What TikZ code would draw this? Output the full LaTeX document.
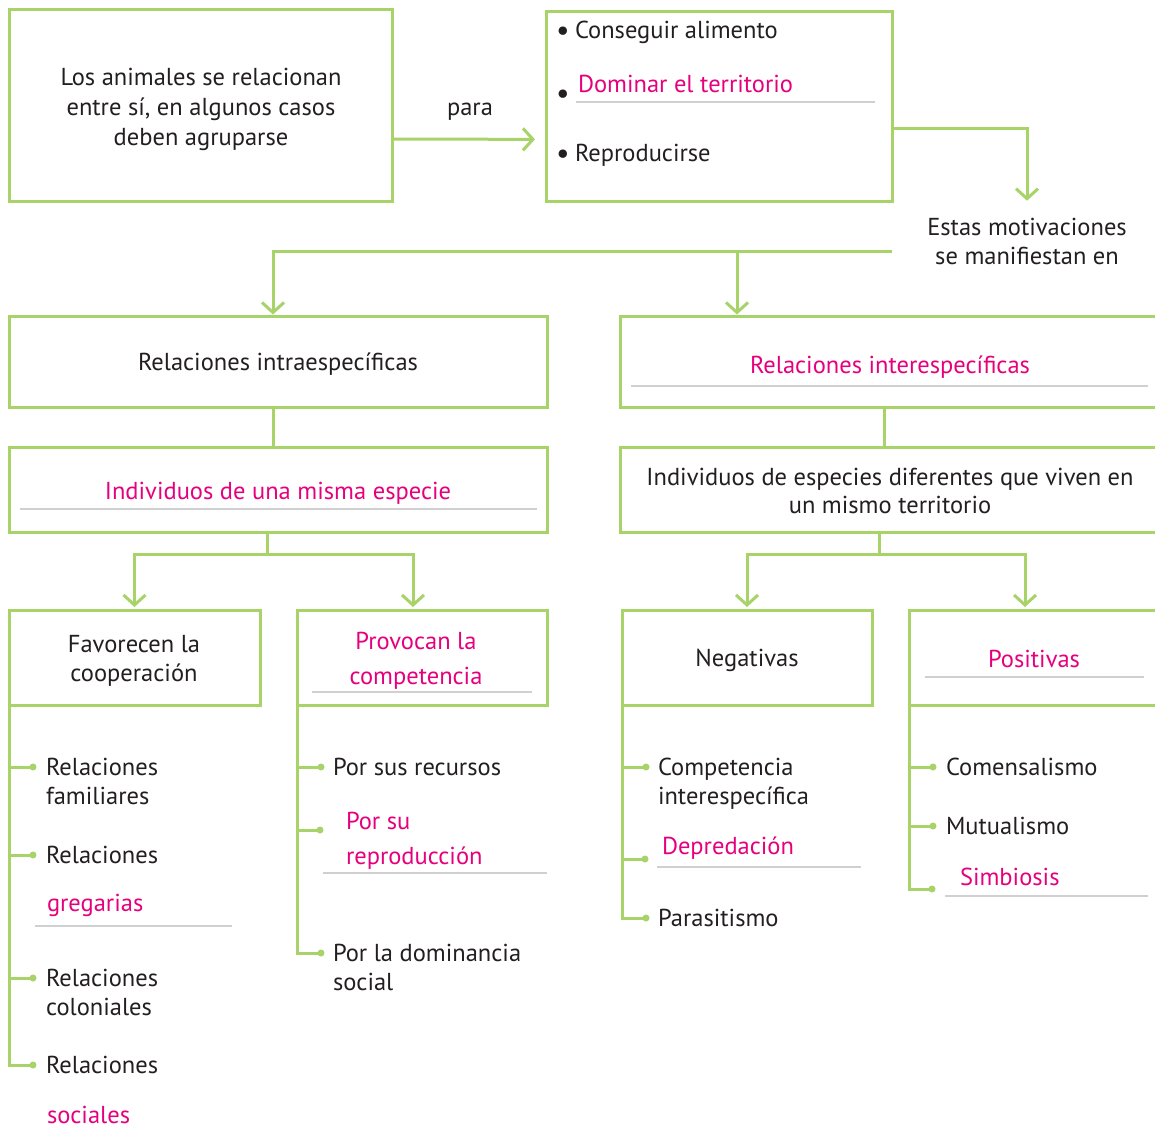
\documentclass[tikz,border=0pt]{standalone}
\usepackage{fontspec}
\setmainfont{PT Sans}
\usetikzlibrary{arrows.meta}
\definecolor{leaf}{HTML}{A8D368}
\definecolor{ink}{HTML}{231F20}
\definecolor{pink}{HTML}{E6007E}
\definecolor{rulegray}{HTML}{D0D0D0}
\newcommand{\bodysize}[1]{\fontsize{24.5}{#1}\selectfont}
\newcommand{\centredlines}[1]{\begin{tabular}[t]{@{}c@{}}#1\end{tabular}}
\newcommand{\leftlines}[1]{\begin{tabular}[t]{@{}l@{}}#1\end{tabular}}
\begin{document}
\begin{tikzpicture}[x=1pt,y=-1pt,
  every node/.style={inner sep=0pt, outer sep=0pt, text=ink,
    font=\bodysize{29}},
  box/.style={draw=leaf, line width=3pt, rectangle},
  link/.style={draw=leaf, line width=3pt},
  arr/.style={link, -{Straight Barb[length=10pt,width=22pt]}, shorten >=1.5pt},
  hint/.style={text=pink},
  blank/.style={draw=rulegray, line width=1.5pt},
  dot/.style={circle, fill=leaf, minimum size=7pt},
  item/.style={anchor=base west},
  mid/.style={anchor=base},
  bull/.style={anchor=base, font=\fontsize{30}{30}\selectfont},
]
\useasboundingbox (0,0) rectangle (1155,1135);
\fill[white] (0,0) rectangle (1155,1135);
\clip (0,0) rectangle (1155,1135);

% ---------- top row ----------
\node[box, minimum width=383pt, minimum height=191.3pt] (A) at (201.2,105.6) {};
\node[mid, font=\bodysize{30}] (Atxt) at (201,85)
  {\centredlines{Los animales se relacionan\\entre sí, en algunos casos\\deben agruparse}};
\node[box, minimum width=345.6pt, minimum height=190pt] (B) at (719.5,106) {};
\node[bull] (bu1) at (563,40) {\textbullet};
\node[item] (goal1) at (575,38) {Conseguir alimento};
\node[bull] (bu2) at (563,103) {\textbullet};
\node[item, hint] (goal2) at (578,92) {Dominar el territorio};
\draw[blank] (576,102) -- (875,102);
\node[bull] (bu3) at (563,163) {\textbullet};
\node[item] (goal3) at (575,161) {Reproducirse};

\draw[arr, shorten >=11.7pt] ([yshift=-33.4pt]A.east) -- ([yshift=-33.4pt]B.west);
\node[mid] (para) at (470,115) {para};

\node[mid] (M) at (1027,235) {\centredlines{Estas motivaciones\\se manifiestan en}};
\draw[arr, shorten >=14pt] ([yshift=-22pt]B.east) -| (M.north);

% ---------- second and third rows ----------
\node[box, minimum width=538pt, minimum height=91pt] (C) at (278,361.5) {};
\node[mid] (Ctxt) at (278,370) {Relaciones intraespecíficas};
\node[box, minimum width=545pt, minimum height=91pt] (D) at (892.5,361.5) {};
\node[mid, hint] (Dtxt) at (890,373) {Relaciones interespecíficas};
\draw[blank] (631,386) -- (1148,386);

\coordinate (split) at (892,251);
\draw[arr] (split) -| ([xshift=-5pt]C.north);
\draw[arr] ([xshift=117pt]D.north west |- split) -- ([xshift=117pt]D.north west);

\node[box, minimum width=538pt, minimum height=85pt] (E) at (278,489.5) {};
\node[mid, hint] (Etxt) at (278,499) {Individuos de una misma especie};
\draw[blank] (20,509) -- (537,509);
\node[box, minimum width=545pt, minimum height=85pt] (F) at (892.5,489.5) {};
\node[mid, font=\bodysize{28}] (Ftxt) at (890,485)
  {\centredlines{Individuos de especies diferentes que viven en\\un mismo territorio}};

\draw[link] ([xshift=-5pt]C.south) -- ([xshift=-5pt]E.north);
\draw[link] ([xshift=264pt]D.south west) -- ([xshift=264pt]F.north west);

% ---------- fourth row ----------
\node[box, minimum width=251pt, minimum height=95pt] (G) at (134.5,657.5) {};
\node[mid] (Gtxt) at (134,652) {\centredlines{Favorecen la\\cooperación}};
\node[box, minimum width=250pt, minimum height=95pt] (H) at (422,657.5) {};
\node[mid, hint, font=\bodysize{35}] (Htxt) at (416,649)
  {\centredlines{Provocan la\\competencia}};
\draw[blank] (312,692) -- (532,692);
\node[box, minimum width=250pt, minimum height=95pt] (I) at (747,657.5) {};
\node[mid] (Itxt) at (747,666) {Negativas};
\node[box, minimum width=256pt, minimum height=95pt] (J) at (1037,657.5) {};
\node[mid, hint] (Jtxt) at (1034,667) {Positivas};
\draw[blank] (925,677) -- (1144,677);

\draw[arr, shorten >=3pt] ([xshift=-11pt]E.south) -- ++(0,22) -| (G.north);
\draw[arr, shorten >=3pt] ([xshift=-11pt]E.south) -- ++(0,22) -| ([xshift=-9pt]H.north);
\draw[arr, shorten >=3pt] ([xshift=-13.5pt]F.south) -- ++(0,22) -| (I.north);
\draw[arr, shorten >=3pt] ([xshift=-13.5pt]F.south) -- ++(0,22) -| ([xshift=-12pt]J.north);

% ---------- list under G ----------
\node[dot] (g1) at (33,767) {};
\node[dot] (g2) at (33,855) {};
\node[dot] (g3) at (33,978) {};
\node[dot] (g4) at (33,1065) {};
\draw[link] (G.south west) |- (g4);
\foreach \k in {g1,g2,g3} \draw[link] (G.south west |- \k) -- (\k);
\node[item] (g1t) at (46,775) {\leftlines{Relaciones\\familiares}};
\node[item] (g2t) at (46,863) {Relaciones};
\node[item, hint] (g2h) at (47,911) {gregarias};
\draw[blank] (35,926) -- (232,926);
\node[item] (g3t) at (46,986) {\leftlines{Relaciones\\coloniales}};
\node[item] (g4t) at (46,1073) {Relaciones};
\node[item, hint] (g4h) at (47,1123) {sociales};

% ---------- list under H ----------
\node[dot] (h1) at (321,767) {};
\node[dot] (h2) at (320,830) {};
\node[dot] (h3) at (321,953) {};
\draw[link] (H.south west) |- (h3);
\foreach \k in {h1,h2} \draw[link] (H.south west |- \k) -- (\k);
\node[item] (h1t) at (333,775) {Por sus recursos};
\node[item, hint, font=\bodysize{35}] (h2h) at (346,829)
  {\leftlines{Por su\\reproducción}};
\draw[blank] (323,873) -- (547,873);
\node[item] (h3t) at (333,961) {\leftlines{Por la dominancia\\social}};

% ---------- list under I ----------
\node[dot] (i1) at (646,767) {};
\node[dot] (i2) at (645,859) {};
\node[dot] (i3) at (646,918) {};
\draw[link] (I.south west) |- (i3);
\foreach \k in {i1,i2} \draw[link] (I.south west |- \k) -- (\k);
\node[item] (i1t) at (658,775) {\leftlines{Competencia\\interespecífica}};
\node[item, hint] (i2h) at (662,854) {Depredación};
\draw[blank] (657,867) -- (861,867);
\node[item] (i3t) at (658,926) {Parasitismo};

% ---------- list under J ----------
\node[dot] (j1) at (933,767) {};
\node[dot] (j2) at (933,826) {};
\node[dot] (j3) at (932,889) {};
\draw[link] (J.south west) |- (j3);
\foreach \k in {j1,j2} \draw[link] (J.south west |- \k) -- (\k);
\node[item] (j1t) at (946,775) {Comensalismo};
\node[item] (j2t) at (946,834) {Mutualismo};
\node[item, hint] (j3h) at (960,885) {Simbiosis};
\draw[blank] (945,896) -- (1148,896);
\end{tikzpicture}
\end{document}
